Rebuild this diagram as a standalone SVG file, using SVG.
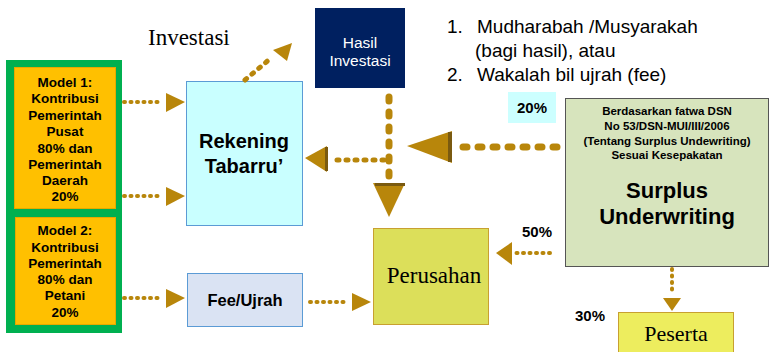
<svg xmlns="http://www.w3.org/2000/svg" width="770" height="352" viewBox="0 0 770 352">
<style>
.b{font-family:"Liberation Sans",Arial,sans-serif;font-weight:bold;text-anchor:middle;fill:#000}
.serif{font-family:"Liberation Serif","Times New Roman",serif;fill:#000}
.sans{font-family:"Liberation Sans",Arial,sans-serif;fill:#000}
.d{fill:none;stroke:#B8860B;stroke-linecap:round}
.ds{stroke-width:4;stroke-dasharray:1 5.5}
.dm{stroke-width:5;stroke-dasharray:2 7}
.dl{stroke-width:7;stroke-dasharray:4 11}
.ah{fill:#B8860B}
.ahd{fill:#7A5A10}
</style>
<rect width="770" height="352" fill="#fff"/>

<g id="models">
<rect x="6" y="60" width="116" height="273" fill="#00B050"/>
<g id="model1">
<rect x="14.5" y="67.5" width="101" height="141" fill="#FFC000" stroke="#E8A800"/>
<text class="b" font-size="13.5"><tspan x="65" y="87">Model 1:</tspan><tspan x="65" y="103">Kontribusi</tspan><tspan x="65" y="119.5">Pemerintah</tspan><tspan x="65" y="136">Pusat</tspan><tspan x="65" y="152.5">80% dan</tspan><tspan x="65" y="169">Pemerintah</tspan><tspan x="65" y="185">Daerah</tspan><tspan x="65" y="201">20%</tspan></text>
</g>
<g id="model2">
<rect x="15.5" y="217.5" width="100" height="107" fill="#FFC000" stroke="#E8A800"/>
<text class="b" font-size="13.5"><tspan x="65" y="235">Model 2:</tspan><tspan x="65" y="251.5">Kontribusi</tspan><tspan x="65" y="268">Pemerintah</tspan><tspan x="65" y="284">80% dan</tspan><tspan x="65" y="300">Petani</tspan><tspan x="65" y="316.5">20%</tspan></text>
</g>
</g>

<g id="rekening">
<rect x="186.5" y="81.5" width="116" height="144" fill="#C9FFFF" stroke="#5B9BD5"/>
<text class="b" font-size="20"><tspan x="244" y="148">Rekening</tspan><tspan x="244" y="173">Tabarru’</tspan></text>
</g>

<g id="hasil">
<rect x="315" y="8" width="90" height="80" fill="#002060"/>
<text class="sans" font-size="15.5" style="fill:#fff" text-anchor="middle"><tspan x="360" y="48">Hasil</tspan><tspan x="360" y="66">Investasi</tspan></text>
</g>

<g id="investasi-label">
<text class="serif" x="148" y="45" font-size="23">Investasi</text>
</g>

<g id="list">
<text class="sans" font-size="19"><tspan x="447" y="33">1.</tspan><tspan x="477" y="33">Mudharabah /Musyarakah</tspan><tspan x="475" y="57">(bagi hasil), atau</tspan><tspan x="447" y="81">2.</tspan><tspan x="477" y="81">Wakalah bil ujrah (fee)</tspan></text>
</g>

<g id="surplus">
<rect x="565.5" y="98.5" width="203" height="168" fill="#D7E4BD" stroke="#555"/>
<text class="b" font-size="11.5"><tspan x="667" y="115">Berdasarkan fatwa DSN</tspan><tspan x="667" y="130">No 53/DSN-MUI/III/2006</tspan><tspan x="667" y="144.5">(Tentang Surplus Undewriting)</tspan><tspan x="667" y="159">Sesuai Kesepakatan</tspan></text>
<text class="b" font-size="22"><tspan x="667" y="198">Surplus</tspan><tspan x="667" y="224">Underwriting</tspan></text>
</g>

<g id="label20">
<rect x="508" y="92" width="48" height="31" fill="#CCFFFF"/>
<text class="b" x="532" y="113" font-size="15">20%</text>
</g>
<g id="label50">
<text class="b" x="537" y="237" font-size="15">50%</text>
</g>
<g id="label30">
<text class="b" x="590" y="321" font-size="15">30%</text>
</g>

<g id="perusahan">
<rect x="373.5" y="228.5" width="115" height="96" fill="#DCDF5A" stroke="#C8A030"/>
<text class="serif" x="434" y="283" font-size="23" text-anchor="middle">Perusahan</text>
</g>

<g id="fee">
<rect x="187.5" y="273.5" width="115" height="53" fill="#DAE3F3" stroke="#5B9BD5"/>
<text class="b" x="245" y="306" font-size="16.5">Fee/Ujrah</text>
</g>

<g id="peserta">
<rect x="618.5" y="312.5" width="115" height="40" fill="#EDED5E" stroke="#C8A030"/>
<text class="serif" x="676" y="341" font-size="22" text-anchor="middle">Peserta</text>
</g>

<g id="connectors">
<path class="d ds" d="M124 102H162"/>
<polygon class="ah" points="166,93 166,112 185,102"/>
<path class="d ds" d="M124 196H162"/>
<polygon class="ah" points="166,187 166,206 185,196"/>
<path class="d ds" d="M124 298H162"/>
<polygon class="ah" points="166,289 166,308 185,298"/>

<path class="d dm" d="M245 80L271 58"/>
<polygon class="ah" points="273,50 292,43 287,61"/>

<path class="d dl" d="M389 97V176"/>
<polygon class="ah" points="373,183 405,183 389,217"/>
<rect class="ahd" x="375" y="183" width="30" height="3"/>

<path class="d dm" d="M384 160H330"/>
<polygon class="ah" points="305,158 327,146 327,172"/>
<rect class="ahd" x="325" y="147" width="3" height="24"/>

<path class="d dl" d="M557 147H460"/>
<polygon class="ah" points="407,146 452,131 452,163"/>
<rect class="ahd" x="448" y="132" width="4" height="30"/>

<path class="d ds" d="M550 253H515"/>
<polygon class="ah" points="496,253 512,242 512,265"/>

<path class="d ds" d="M672 269V295"/>
<polygon class="ah" points="663,298 681,298 672,311"/>

<path class="d ds" d="M310 302H348"/>
<polygon class="ah" points="352,293 352,311 371,302"/>
</g>
</svg>
